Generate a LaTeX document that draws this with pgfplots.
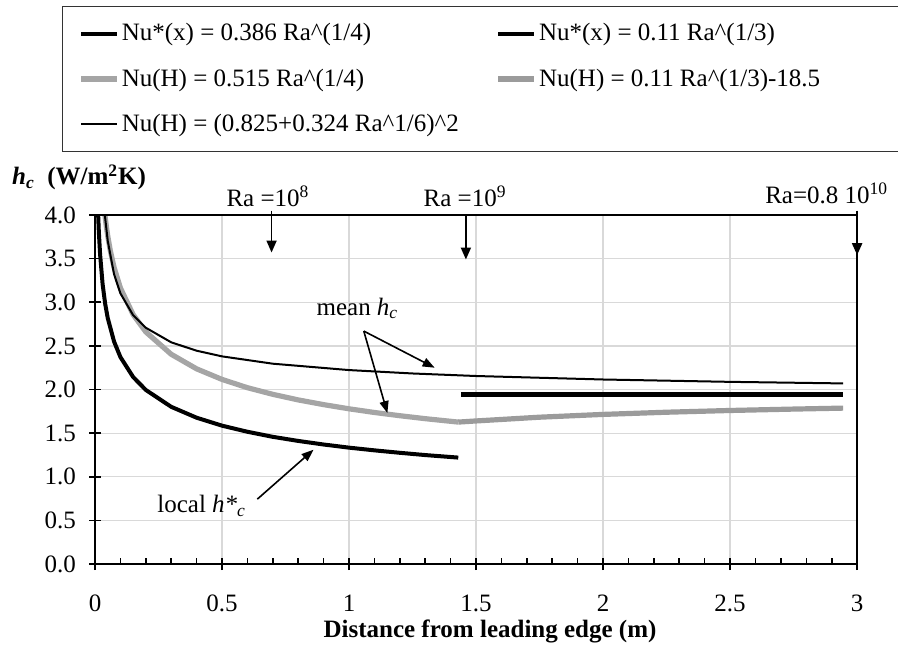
\documentclass[border=0pt]{standalone}
\usepackage{fontspec}
\setmainfont{Liberation Serif}
\usepackage{pgfplots}
\pgfplotsset{compat=1.18}
\usetikzlibrary{arrows.meta}
\newcommand{\lgd}[1]{\makebox[172pt][l]{#1}}
\definecolor{meangray}{RGB}{165,165,165}
\definecolor{meangray2}{RGB}{155,155,155}
\begin{document}
\begin{tikzpicture}
\begin{axis}[
  scale only axis, width=381pt, height=174.5pt,
  xmin=0, xmax=3, ymin=0, ymax=4,
  xtick={0,0.5,1,1.5,2,2.5,3}, ytick={0,0.5,1,1.5,2,2.5,3,3.5,4},
  minor x tick num=4,
  xtick pos=bottom, ytick pos=left,
  tick align=center, major tick length=6pt, minor tick length=3pt,
  tick style={black, line width=0.8pt},
  minor x tick style={yshift=1.5pt},
  grid=major, major grid style={gray!30, line width=0.6pt},
  axis line style={black, line width=0.8pt},
  font=\fontsize{12.5}{15}\selectfont,
  ticklabel style={font=\fontsize{12.5}{15}\selectfont},
  /pgf/number format/assume math mode=true,
  yticklabel style={xshift=-3pt, /pgf/number format/.cd, fixed, fixed zerofill, precision=1},
  xticklabel style={yshift=-9pt},
  clip=false,
  legend columns=2,
  legend cell align=left,
  legend image code/.code={\draw[#1] (0pt,0pt) -- (18pt,0pt);},
  legend style={at={(-0.0433,1.599)}, anchor=north west, draw=black!80, line width=0.6pt,
    fill=white, font=\fontsize{12.5}{15}\selectfont, inner xsep=8pt, inner ysep=6.5pt,
    row sep=8.5pt, nodes={inner xsep=1pt},
    /tikz/every even column/.append style={column sep=14pt}},
]
\addplot[black, line width=2pt] coordinates {
 (0.0124,4.0) (0.015,3.812) (0.02,3.55) (0.03,3.205) (0.04,2.983) (0.05,2.82)
 (0.075,2.55) (0.1,2.372) (0.15,2.144) (0.2,1.995) (0.3,1.802) (0.4,1.677)
 (0.5,1.586) (0.6,1.516) (0.7,1.458) (0.8,1.411) (0.9,1.370) (1.0,1.334)
 (1.1,1.303) (1.2,1.275) (1.3,1.249) (1.43,1.22)};
\addlegendentry{\lgd{Nu*(x) = 0.386 Ra\textasciicircum(1/4)}}
\addplot[black, line width=2.2pt] coordinates {(1.44,1.945) (2.945,1.945)};
\addlegendentry{\lgd{Nu*(x) = 0.11 Ra\textasciicircum(1/3)}}
\addplot[meangray, line width=2.6pt] coordinates {
 (0.039,4.0) (0.045,3.862) (0.05,3.762) (0.06,3.595) (0.075,3.40) (0.1,3.164)
 (0.15,2.859) (0.2,2.660) (0.3,2.404) (0.4,2.237) (0.5,2.116) (0.6,2.021)
 (0.7,1.945) (0.8,1.881) (0.9,1.827) (1.0,1.779) (1.1,1.737) (1.2,1.700)
 (1.3,1.666) (1.43,1.627)};
\addlegendentry{\lgd{Nu(H) = 0.515 Ra\textasciicircum(1/4)}}
\addplot[meangray2, line width=2.6pt] coordinates {
 (1.43,1.627) (1.5,1.64) (1.75,1.683) (2.0,1.715) (2.25,1.74) (2.5,1.76)
 (2.75,1.776) (2.945,1.787)};
\addlegendentry{\lgd{Nu(H) = 0.11 Ra\textasciicircum(1/3)-18.5}}
\addplot[black, line width=1pt] coordinates {
 (0.0387,4.0) (0.05,3.706) (0.075,3.321) (0.1,3.102) (0.15,2.852) (0.2,2.708)
 (0.3,2.541) (0.4,2.445) (0.5,2.380) (0.7,2.296) (1.0,2.223) (1.25,2.184)
 (1.5,2.155) (2.0,2.115) (2.5,2.088) (2.945,2.070)};
\addlegendentry{\lgd{Nu(H) = (0.825+0.324 Ra\textasciicircum1/6)\textasciicircum2}}

% frame (axis box)
\draw[black, line width=0.8pt] (rel axis cs:0,0) rectangle (rel axis cs:1,1);
% annotations
\node[anchor=base west, font=\bfseries\fontsize{12.5}{15}\selectfont] at (axis cs:-0.354,4.345)
  {\textit{h}\textsubscript{\textit{c}}\hspace{0.5em}(W/m\textsuperscript{2}K)};
\node[anchor=base] at (axis cs:0.681,4.10) {Ra =10\textsuperscript{8}};
\node[anchor=base] at (axis cs:1.457,4.10) {Ra =10\textsuperscript{9}};
\node[anchor=base east] at (axis cs:3.15,4.13) {Ra=0.8 10\textsuperscript{10}};
\draw[line width=0.9pt, -{Triangle[length=6pt,width=5pt]}] (axis cs:0.695,4.05) -- (axis cs:0.695,3.57);
\draw[line width=0.9pt, -{Triangle[length=6pt,width=5pt]}] (axis cs:1.46,4.0) -- (axis cs:1.46,3.49);
\draw[line width=1.1pt, -{Triangle[length=6pt,width=5pt]}] (axis cs:3.0,4.05) -- (axis cs:3.0,3.54);
\node[anchor=base] at (axis cs:1.033,2.85) {mean \textit{h}\textsubscript{\textit{c}}};
\draw[line width=0.8pt, -{Triangle[length=6pt,width=4.5pt]}] (axis cs:1.058,2.67) -- (axis cs:1.337,2.25);
\draw[line width=0.8pt, -{Triangle[length=6pt,width=4.5pt]}] (axis cs:1.058,2.67) -- (axis cs:1.151,1.73);
\node[anchor=base] at (axis cs:0.42,0.586) {local \textit{h*}\textsubscript{\textit{c}}};
\draw[line width=0.8pt, -{Triangle[length=6pt,width=4.5pt]}] (axis cs:0.639,0.744) -- (axis cs:0.86,1.31);
\node[anchor=base, font=\bfseries\fontsize{12.5}{15}\selectfont] at (axis cs:1.555,-0.837)
  {Distance from leading edge (m)};
\coordinate (BL) at (axis cs:-0.374,-1.009);
\coordinate (TR) at (axis cs:3.161,6.464);
\end{axis}
\pgfresetboundingbox
\path[use as bounding box] (BL) rectangle (TR);
\end{tikzpicture}
\end{document}
